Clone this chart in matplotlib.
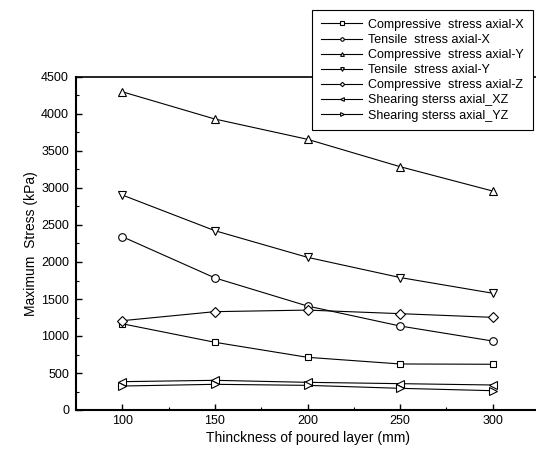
import numpy as np
import matplotlib
matplotlib.use("Agg")
import matplotlib.pyplot as plt
from matplotlib.ticker import MultipleLocator

plt.rcParams['font.family'] = ['Liberation Sans', 'DejaVu Sans']

# layer thickness (mm)
thickness = [100, 150, 200, 250, 300]

# maximum stresses (kPa)
comp_x = [1165, 915, 712, 622, 618]
tens_x = [2342, 1785, 1405, 1135, 932]
comp_y = [4300, 3932, 3658, 3288, 2959]
tens_y = [2905, 2423, 2063, 1790, 1578]
comp_z = [1207, 1329, 1350, 1302, 1252]
shear_xz = [383, 401, 374, 356, 338]
shear_yz = [324, 347, 333, 293, 261]

labels = ["Compressive  stress axial-X",
          "Tensile  stress axial-X",
          "Compressive  stress axial-Y",
          "Tensile  stress axial-Y",
          "Compressive  stress axial-Z",
          "Shearing sterss axial_XZ",
          "Shearing sterss axial_YZ"]
series = [comp_x, tens_x, comp_y, tens_y, comp_z, shear_xz, shear_yz]
markers = ['s', 'o', '^', 'v', 'D', '<', '>']
msizes = [5.0, 5.5, 6.0, 6.0, 5.0, 6.0, 6.0]

fig = plt.figure(figsize=(5.36, 4.53), dpi=100)
ax = fig.add_axes([76/536, 43/453, 463/536, 333/453])

for vals, m, ms, lab in zip(series, markers, msizes, labels):
    ax.plot(thickness, vals, '-', color='black', lw=0.8,
            marker=m, markersize=ms, markerfacecolor='white',
            markeredgecolor='black', markeredgewidth=0.8, label=lab)

ax.set_xlim(75, 325)
ax.set_ylim(0, 4500)
ax.xaxis.set_major_locator(MultipleLocator(50))
ax.xaxis.set_minor_locator(MultipleLocator(25))
ax.yaxis.set_major_locator(MultipleLocator(500))
ax.yaxis.set_minor_locator(MultipleLocator(250))
ax.tick_params(which='both', direction='in', top=False, right=False)
ax.tick_params(which='major', length=4, width=1.0, labelsize=9)
ax.tick_params(which='minor', length=2.5, width=0.8)
ax.tick_params(axis='y', pad=5)
for s in ('left', 'bottom'):
    ax.spines[s].set_linewidth(1.5)
ax.spines['top'].set_linewidth(1.2)

ax.set_xlabel("Thinckness of poured layer (mm)", fontsize=10, labelpad=3)
ax.set_ylabel("Maximum  Stress (kPa)", fontsize=10, labelpad=2)

leg = fig.legend(loc='upper right', bbox_to_anchor=(533/536, 1 - 10/453),
                 borderaxespad=0, fontsize=9, markerscale=0.45,
                 handlelength=3.3, handletextpad=0.5, labelspacing=0.25,
                 borderpad=0.7, fancybox=False, framealpha=1)
leg.get_frame().set_edgecolor('black')
leg.get_frame().set_linewidth(0.8)

fig.savefig("out.png", dpi=100)
